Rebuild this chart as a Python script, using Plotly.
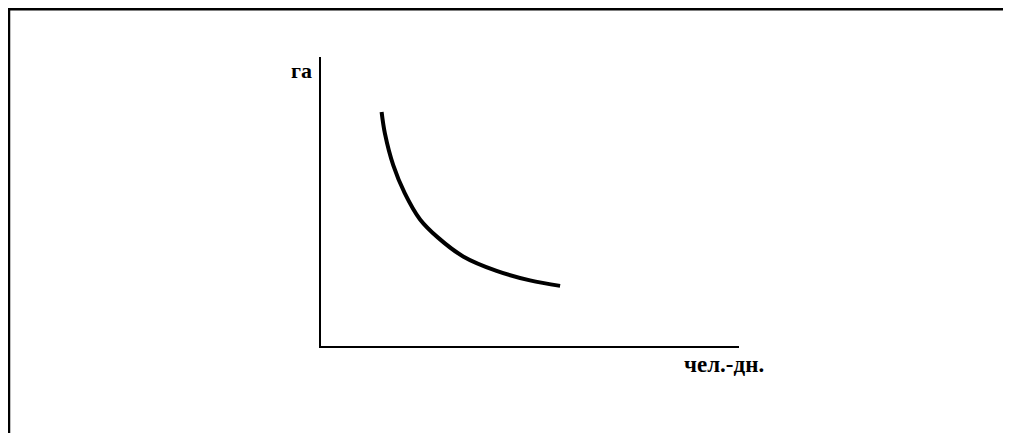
import plotly.graph_objects as go

# Labor (man-days) vs. land (hectares) — isoquant-like curve
labor_days = [1.45, 1.53, 1.73, 2.0, 2.37, 2.8, 3.4, 4.2, 5.0, 5.72]
hectares = [8.1, 7.35, 6.25, 5.3, 4.38, 3.75, 3.1, 2.6, 2.27, 2.08]
y_label = "га"
x_label = "чел.-дн."

fig = go.Figure()
fig.add_trace(go.Scatter(
    x=labor_days, y=hectares, mode="lines",
    line=dict(color="black", width=4, shape="spline", smoothing=1.0),
    hoverinfo="skip", showlegend=False,
))

axis_common = dict(showgrid=False, zeroline=False, showticklabels=False,
                   ticks="", showline=True, linecolor="black", linewidth=2,
                   fixedrange=True)

fig.update_layout(
    width=1003, height=425,
    margin=dict(l=313, r=272, t=49, b=87),
    paper_bgcolor="white", plot_bgcolor="white",
    xaxis=dict(range=[0, 10], **axis_common),
    yaxis=dict(range=[0, 10], **axis_common),
    font=dict(family="Liberation Serif", color="black"),
    shapes=[
        dict(type="line", xref="paper", yref="paper", x0=-0.75, x1=1.66,
             y0=1.1654, y1=1.1654, line=dict(color="black", width=2.5)),
        dict(type="line", xref="paper", yref="paper", x0=-0.7464, x1=-0.7464,
             y0=1.17, y1=-0.32, line=dict(color="black", width=2.5)),
    ],
    annotations=[
        dict(text=f"<b>{y_label}</b>", xref="paper", yref="paper",
             x=-0.0455, y=0.9516, xanchor="center", yanchor="middle",
             showarrow=False, font=dict(size=22, family="Liberation Serif")),
        dict(text=f"<b>{x_label}</b>", xref="paper", yref="paper",
             x=0.964, y=-0.0657, xanchor="center", yanchor="middle",
             showarrow=False, font=dict(size=23, family="Liberation Serif")),
    ],
)

fig.write_html("out.html", config={"displayModeBar": False})
